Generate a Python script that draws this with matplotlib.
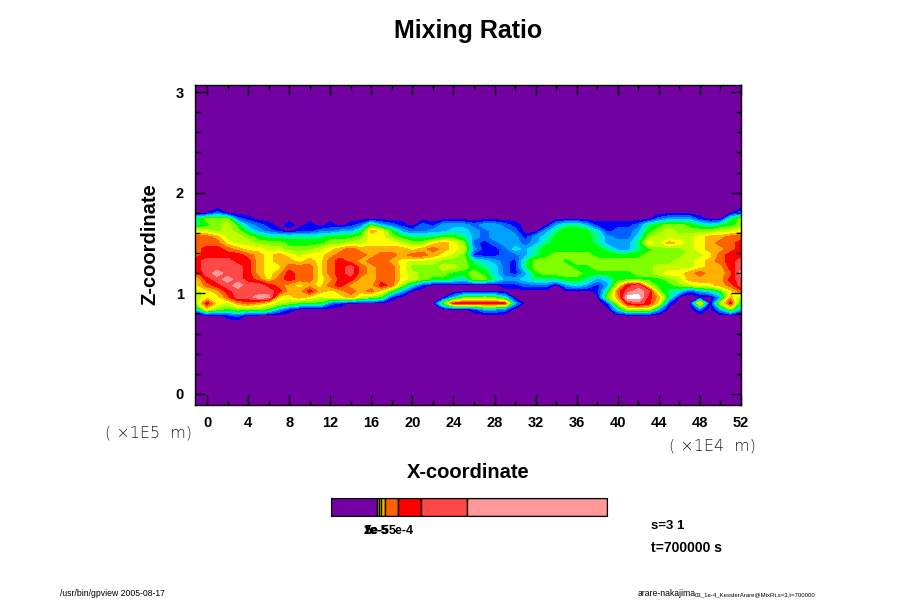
import matplotlib
matplotlib.use("Agg")
import matplotlib.pyplot as plt
import numpy as np

# colour class of the field (one hex digit per column, top row first)
band_left = [
    "000000000000000000000000000",
    "002000000000000000000000000",
    "577721000000000000000000000",
    "5678632101" "0101012632" "1021333",
    "8878753210" "1122335a96" "3223344",
    "bba8876555" "5556667997" "6555665",
    "bbb9887776" "6667788999" "8779a97",
    "bccba99887" "7789abaaaa" "a9aba98",
    "bccccba9a9" "899abbbabb" "abba987",
    "cdddcca9aa" "9a9bcbabba" "9888777",
    "cddddca99b" "bb9bcdbabb" "9777887",
    "bdeddca9ac" "bb9bcdbabb" "9877766",
    "9cdedcb9bc" "bb9accaabb" "9876654",
    "9bcdeddcba" "9a9bcaaacb" "7410000",
    "89acddddca" "aca9abab96" "3000000",
    "899bddee99" "a9899a8761" "0000036",
    "7c98aba987" "6662100000" "00006cc",
    "3976777631" "0000000000" "0000000",
    "00012" "0000000000" "0000000000" "00",
    "000000000000000000000000000",
]
band_right = [
    "000000000000000000000000000",
    "000000000000000000000000002",
    "000000000000000000233310057",
    "233210003553111125677654567",
    "3233200356" "6641223678" "7777889",
    "3233313466" "6653224788" "889aabb",
    "2123323566" "665333598a" "989abbc",
    "3112435666" "6665335677" "789aabc",
    "1112235677" "7766666777" "7889bcc",
    "5432157776" "7777777777" "889abcd",
    "6542157777" "6677777788" "889aacd",
    "7642136777" "7666667789" "9abaabe",
    "7753345556" "6534666667" "8aaaacd",
    "0001122203" "43138cd866" "7899abd",
    "0000000000" "0015bded75" "413469b",
    "6764000000" "0007affca5" "00003a7",
    "cccc300000" "00018cdc91" "00a08c5",
    "1332000000" "0000488830" "0020373",
    "000000000000000000000000000",
    "000000000000000000000000000",
]
x_vals = [-1.17] + list(range(0, 53))
z_vals = [1.86, 1.80, 1.74, 1.68, 1.62, 1.56, 1.50, 1.44, 1.38, 1.32,
          1.26, 1.20, 1.14, 1.08, 1.02, 0.96, 0.90, 0.84, 0.78, 0.72]

colors = ["#7300a0", "#0000ff", "#0060ff", "#00a0ff", "#00e0ff", "#00ff80",
          "#00ff00", "#80ff00", "#c0ff00", "#ffff00", "#ffb000", "#ff6000",
          "#ff0000", "#ff4848", "#ff9898", "#ffffff"]

# colorbar
cbar_bounds = [0, 1e-3, 1.035e-3, 1.085e-3, 1.185e-3, 1.465e-3, 1.965e-3, 2.965e-3, 6e-3]
cbar_colors = ["#7300a0", "#c0ff00", "#ffff00", "#ffb000", "#ff6000", "#ff0000", "#ff4848", "#ff9898"]
cbar_labels = ["1e-5", "2e-5", "5e-5", "5e-4"]
cbar_label_px = [375.5, 376, 377, 401]

plt.rcParams["font.family"] = ["Liberation Sans", "DejaVu Sans"]

W, H = 900.0, 600.0
def px_rect(x0, y0, x1, y1):
    return [x0 / W, 1 - y1 / H, (x1 - x0) / W, (y1 - y0) / H]

fig = plt.figure(figsize=(9, 6), dpi=100)
ax = fig.add_axes(px_rect(195, 85, 741, 405))
ax.set_facecolor(colors[0])

field = np.array([[int(c, 16) for c in l + r] for l, r in zip(band_left, band_right)])
ax.contourf(x_vals, z_vals, field, levels=np.arange(-0.5, 16), colors=colors, antialiased=False)

ax.set_xlim(-1.17, 52)
ax.set_ylim(-0.11, 3.07)
ax.set_xticks(range(0, 53, 4))
ax.set_xticks(range(2, 53, 4), minor=True)
ax.set_yticks([0, 1, 2, 3])
ax.set_yticks([v / 5 for v in range(0, 16) if v % 5], minor=True)
ax.tick_params(which="major", direction="in", length=7, width=1, top=True, right=True, pad=8)
ax.tick_params(which="minor", direction="in", length=3.5, width=1, top=True, right=True)
for lab in ax.get_xticklabels() + ax.get_yticklabels():
    lab.set_fontweight("bold")
    lab.set_fontsize(10.5)
for s in ax.spines.values():
    s.set_linewidth(1)

fig.text(468.5 / W, 1 - 31 / H, "Mixing Ratio", ha="center", va="center", fontsize=18, fontweight="bold")
fig.text(468.5 / W, 1 - 473 / H, "X-coordinate", ha="center", va="center", fontsize=14.5, fontweight="bold")
fig.text(150 / W, 1 - 244 / H, "Z-coordinate", ha="center", va="center", rotation=90, fontsize=14.5, fontweight="bold")

fig.text(105 / W, 1 - 433 / H, "( \u00d71E5  m)", ha="left", va="center", fontsize=11.5,
         family="DejaVu Sans", fontweight="light", color="#222222")
fig.text(669 / W, 1 - 446 / H, "( \u00d71E4  m)", ha="left", va="center", fontsize=11.5,
         family="DejaVu Sans", fontweight="light", color="#222222")

# colorbar drawn as plain bars
cax = fig.add_axes(px_rect(331, 498, 606.5, 516))
cax.barh(0, np.diff(cbar_bounds), left=cbar_bounds[:-1], height=1, color=cbar_colors,
         edgecolor="black", linewidth=1)
cax.set_xlim(cbar_bounds[0], cbar_bounds[-1])
cax.set_ylim(-0.5, 0.5)
cax.set_xticks([])
cax.set_yticks([])

for t, p in zip(cbar_labels, cbar_label_px):
    fig.text(p / W, 1 - 531 / H, t, ha="center", va="center", fontsize=9, fontweight="bold")

fig.text(651 / W, 1 - 526 / H, "s=3 1", ha="left", va="center", fontsize=9.5, fontweight="bold")
fig.text(651 / W, 1 - 548 / H, "t=700000 s", ha="left", va="center", fontsize=10, fontweight="bold")

fig.text(60 / W, 1 - 594 / H, "/usr/bin/gpview 2005-08-17", ha="left", va="center", fontsize=6.2)
fig.text(638 / W, 1 - 594 / H, "arare-nakajima", ha="left", va="center", fontsize=6.2)
fig.text(695 / W, 1 - 595 / H, "03_1e-4_KesslerArare@MixRt,s=3,t=700000", ha="left", va="center", fontsize=4.3)

fig.savefig("out.png", dpi=100)
